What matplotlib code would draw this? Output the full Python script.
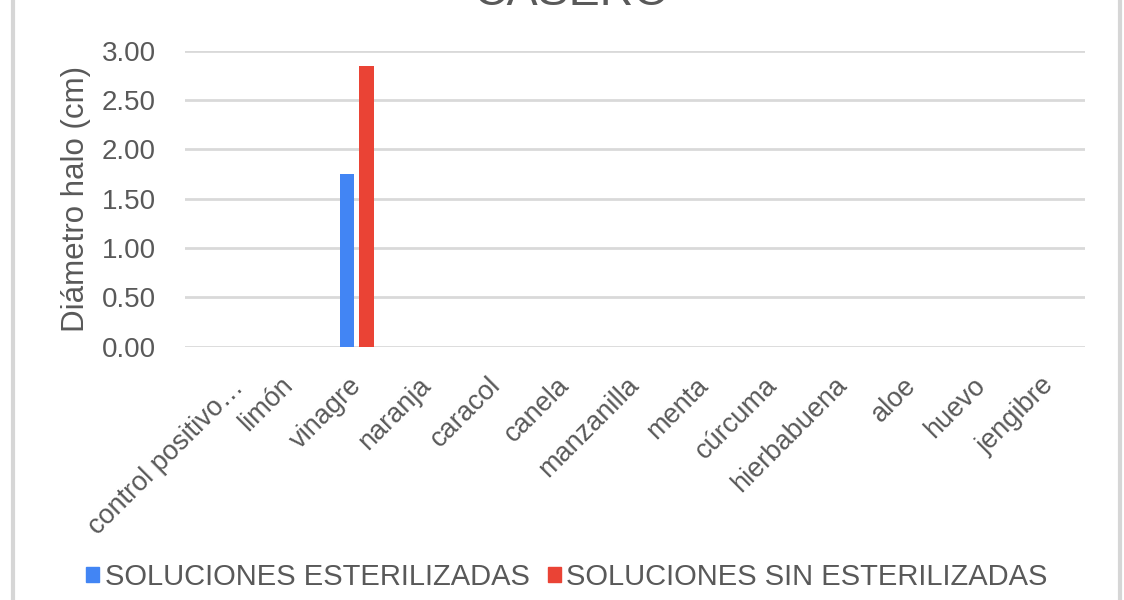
import matplotlib
matplotlib.use("Agg")
import matplotlib.pyplot as plt
import matplotlib.transforms as mtransforms
import numpy as np
from matplotlib.lines import Line2D
from matplotlib.patches import Rectangle

categories = ["control positivo…", "limón", "vinagre", "naranja", "caracol", "canela",
              "manzanilla", "menta", "cúrcuma", "hierbabuena", "aloe", "huevo", "jengibre"]
esterilizadas = [0, 0, 1.75, 0, 0, 0, 0, 0, 0, 0, 0, 0, 0]
sin_esterilizar = [0, 0, 2.85, 0, 0, 0, 0, 0, 0, 0, 0, 0, 0]
yticks = [0.0, 0.5, 1.0, 1.5, 2.0, 2.5, 3.0]
series_names = ["SOLUCIONES ESTERILIZADAS", "SOLUCIONES SIN ESTERILIZADAS"]
title = "CASERO"
ylabel = "Diámetro halo (cm)"

plt.rcParams['font.family'] = ['Liberation Sans', 'DejaVu Sans']
TXT = "#595959"
GRID = "#d9d9d9"
BLUE = "#4285f4"
RED = "#ea4335"

W, H = 1124, 600
fig = plt.figure(figsize=(W / 100, H / 100), dpi=100)
fig.patch.set_facecolor("white")
ax = fig.add_axes([185 / W, 1 - 346.7 / H, 900 / W, (346.7 - 50.7) / H])

x = np.arange(len(categories))
bw = 0.215
ax.bar(x - 0.16, esterilizadas, width=bw, color=BLUE, label=series_names[0], zorder=3)
ax.bar(x + 0.12, sin_esterilizar, width=bw, color=RED, label=series_names[1], zorder=3)

ax.set_xlim(-0.5, len(categories) - 0.5)
ax.set_ylim(0, 3.0)
ax.set_yticks(yticks)
ax.set_yticklabels([f"{v:.2f}" for v in yticks], fontsize=20, color=TXT)
ax.yaxis.grid(True, color=GRID, linewidth=2, zorder=0)
ax.set_axisbelow(True)
for s in ax.spines.values():
    s.set_visible(False)
ax.tick_params(axis='y', length=0, pad=21)
ax.tick_params(axis='x', length=0, pad=25)
ax.set_xticks(x)
ax.set_xticklabels(categories, rotation=45, ha='right', va='center',
                   rotation_mode='anchor', fontsize=19.5, color=TXT)
# the truncated first label sits a bit further right in the reference
lbl0 = ax.get_xticklabels()[0]
lbl0.set_transform(lbl0.get_transform() +
                   mtransforms.ScaledTranslation(20 / 100, -2 / 100, fig.dpi_scale_trans))

ax.set_ylabel(ylabel, fontsize=22.5, color=TXT)
ax.yaxis.set_label_coords((91 - 185) / 900, 0.5)

# title (cut off at the top of the image)
fig.text(571.5 / W, 1 - 5 / H, title, ha='center', va='baseline', fontsize=33.5, color=TXT)

# outer frame lines
fig.add_artist(Line2D([13 / W, 13 / W], [0, 1], color="#d6d6d6", linewidth=3))
fig.add_artist(Line2D([1120 / W, 1120 / W], [0, 1], color="#d6d6d6", linewidth=3))

handles = [Rectangle((0, 0), 1, 1, color=BLUE), Rectangle((0, 0), 1, 1, color=RED)]
fig.legend(handles, series_names, loc='center', bbox_to_anchor=(567 / W, 1 - 577 / H),
           ncol=2, frameon=False, fontsize=21, labelcolor=TXT,
           handlelength=0.45, handleheight=0.45, handletextpad=0.2, columnspacing=0.6)

fig.savefig("out.png", dpi=100, facecolor="white")
